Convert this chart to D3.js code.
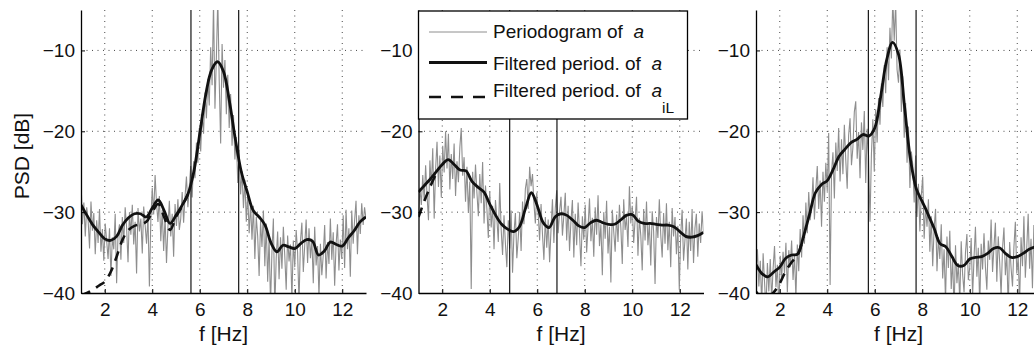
<!DOCTYPE html>
<html>
<head>
<meta charset="utf-8">
<script src="https://cdn.jsdelivr.net/npm/d3@7"></script>
<style>
  body { margin: 0; background: #fff; }
  svg { font-family: "Liberation Sans", Arial, Helvetica, sans-serif; }
</style>
</head>
<body>
<svg id="chart" width="1034" height="350"></svg>
<script>
// frequency grids (Hz)
const freqFine = d3.range(201).map(i => 1 + i * 0.06);
const freqSmooth = d3.range(49).map(i => 1 + i * 0.25);

const xTicks = [2, 4, 6, 8, 10, 12];
const yTicks = [-40, -30, -20, -10];
const gridY = [-30, -20, -10];

// raw periodogram of a (dB), one per panel
const periodogram1 = [
  -26.0, -31.5, -28.8, -33.0, -29.4, -31.0, -34.5, -28.7, -32.3, -30.1,
  -35.2, -31.0, -33.8, -29.6, -34.9, -32.1, -36.0, -31.4, -33.5, -35.8,
  -32.0, -37.9, -33.1, -34.6, -30.2, -38.8, -32.7, -31.5, -35.9, -30.6,
  -33.8, -29.4, -31.9, -36.2, -30.0, -32.8, -29.1, -34.0, -31.2, -37.6,
  -29.5, -32.4, -30.8, -35.1, -29.3, -31.6, -33.9, -30.4, -39.2, -31.0,
  -27.0, -30.3, -25.4, -28.9, -31.2, -28.0, -33.6, -29.7, -34.8, -30.5,
  -36.3, -31.9, -28.6, -33.0, -30.2, -35.5, -29.0, -31.7, -28.4, -32.2,
  -30.8, -27.5, -31.3, -28.1, -25.6, -29.4, -26.9, -24.3, -28.2, -23.7,
  -25.8, -21.4, -23.9, -19.6, -22.5, -17.8, -20.3, -15.2, -18.4, -13.5,
  -16.8, -9.6, -14.3, -4.0, -17.2, -10.9, -3.5, -13.8, -21.5, -9.2,
  -14.6, -11.2, -17.9, -13.0, -19.6, -15.4, -21.8, -18.0, -23.5, -20.7,
  -26.4, -22.3, -27.8, -24.9, -29.5, -26.0, -31.2, -27.7, -32.6, -29.0,
  -33.4, -29.2, -35.8, -30.6, -33.0, -37.9, -31.1, -34.3, -29.8, -36.7,
  -31.4, -38.6, -33.2, -41.5, -34.9, -30.8, -42.0, -35.6, -32.4, -38.3,
  -33.1, -37.0, -31.8, -35.4, -39.6, -32.9, -36.1, -34.0, -40.8, -33.5,
  -36.8, -32.2, -35.0, -41.2, -33.6, -31.3, -37.4, -34.1, -30.9, -36.3,
  -32.0, -35.7, -33.3, -38.8, -31.8, -36.6, -34.2, -40.5, -33.9, -37.8,
  -35.3, -31.6, -38.2, -33.7, -36.4, -30.8, -35.9, -32.5, -39.1, -34.0,
  -31.5, -37.2, -33.4, -35.8, -30.4, -36.9, -29.7, -34.6, -32.0, -38.0,
  -29.8, -33.9, -31.0, -28.6, -35.2, -30.4, -32.7, -28.9, -31.6, -29.4, -30.8
];
const periodogram2 = [
  -30.5, -27.0, -29.1, -25.4, -28.6, -24.2, -27.9, -31.0, -23.6, -26.8,
  -22.1, -30.8, -24.7, -21.3, -26.9, -23.0, -28.2, -21.8, -25.1, -20.0,
  -24.6, -20.3, -27.2, -22.8, -25.9, -21.5, -28.0, -23.7, -26.3, -22.0,
  -19.6, -25.5, -23.2, -28.7, -24.4, -30.1, -26.2, -39.5, -25.0, -28.3,
  -24.1, -27.6, -30.5, -25.3, -28.9, -23.8, -31.4, -26.7, -29.6, -33.2,
  -27.4, -31.9, -29.2, -34.6, -28.5, -30.8, -33.7, -26.4, -32.1, -35.3,
  -30.4, -33.9, -36.8, -31.0, -34.5, -29.8, -37.5, -32.6, -30.1, -35.7,
  -33.2, -30.0, -34.8, -28.7, -31.5, -27.1, -25.9, -29.6, -24.4, -26.8,
  -25.3, -28.9, -31.4, -27.6, -30.2, -33.5, -29.0, -32.7, -35.9, -30.6,
  -34.4, -30.9, -36.2, -32.1, -28.4, -33.8, -29.5, -27.3, -32.6, -29.9,
  -28.1, -32.9, -30.4, -27.6, -33.5, -29.2, -34.8, -31.1, -28.5, -35.6,
  -30.2, -34.1, -28.8, -32.6, -36.7, -30.5, -33.4, -29.1, -35.0, -31.8,
  -28.3, -33.6, -30.7, -35.5, -29.4, -32.8, -27.9, -34.2, -31.5, -37.8,
  -30.0, -33.3, -28.6, -35.1, -31.8, -38.7, -29.7, -32.4, -34.9, -30.3,
  -33.7, -29.1, -31.9, -36.4, -28.4, -32.2, -30.6, -34.3, -26.8, -31.4,
  -29.2, -33.8, -31.0, -28.1, -35.4, -30.7, -32.9, -37.2, -29.6, -33.5,
  -28.7, -34.1, -31.3, -36.6, -29.9, -32.4, -38.9, -30.6, -33.2, -28.4,
  -32.8, -35.6, -30.1, -33.9, -28.9, -34.7, -31.2, -36.8, -29.5, -33.0,
  -30.6, -35.2, -31.7, -39.6, -32.9, -29.7, -36.0, -33.4, -30.8, -37.1,
  -31.2, -34.8, -29.6, -36.3, -32.0, -30.2, -35.5, -31.4, -33.8, -29.9, -32.5
];
const periodogram3 = [
  -37.5, -34.6, -39.2, -36.0, -41.5, -35.1, -38.7, -42.0, -36.3, -39.8,
  -35.8, -40.9, -37.0, -34.2, -39.3, -36.5, -42.3, -35.4, -38.1, -34.9,
  -37.6, -33.8, -39.9, -34.7, -36.8, -33.5, -38.4, -35.2, -40.6, -34.0,
  -37.3, -32.1, -35.6, -30.4, -33.9, -28.8, -32.6, -27.5, -31.0, -29.4,
  -25.7, -30.9, -27.2, -24.3, -29.6, -26.1, -31.8, -25.0, -28.7, -23.9,
  -27.4, -20.2, -39.0, -25.1, -22.6, -28.3, -21.4, -24.9, -19.6, -26.2,
  -21.0, -25.3, -19.2, -23.6, -27.1, -20.5, -18.4, -24.2, -22.0, -17.6,
  -16.3, -23.4, -20.1, -25.8, -18.9, -22.3, -17.5, -26.4, -19.7, -23.1,
  -31.2, -22.8, -18.5, -25.0, -17.3, -21.4, -15.9, -19.2, -14.1, -17.0,
  -11.8, -15.3, -9.6, -13.7, -7.2, -11.0, -3.5, -8.8, -4.0, -12.4,
  -14.0, -9.9, -17.6, -13.2, -20.8, -16.5, -23.9, -19.4, -27.0, -22.5,
  -24.1, -28.8, -23.0, -30.6, -26.5, -32.4, -27.9, -25.6, -33.3, -29.2,
  -31.8, -28.4, -34.9, -30.5, -36.7, -32.0, -29.6, -37.3, -33.1, -35.8,
  -31.5, -38.2, -34.6, -41.0, -33.0, -36.9, -32.3, -39.5, -35.7, -42.4,
  -34.1, -38.8, -36.3, -41.2, -33.6, -37.7, -39.9, -35.0, -32.7, -38.4,
  -36.9, -33.2, -40.4, -35.6, -31.8, -38.0, -34.4, -41.7, -33.9, -37.1,
  -32.6, -36.8, -39.6, -33.5, -35.9, -30.9, -37.4, -34.2, -31.3, -38.6,
  -33.0, -36.2, -40.3, -34.5, -31.9, -37.8, -35.1, -42.0, -33.7, -36.9,
  -39.2, -34.3, -31.2, -37.6, -35.5, -41.3, -33.1, -36.7, -30.5, -38.1,
  -34.4, -30.2, -37.0, -33.3, -39.4, -31.6, -35.8, -32.8, -38.6, -33.9, -36.1
];

// filtered periodogram of a (dB), sampled every 0.25 Hz
const filtered1 = [
  -29.1, -30.4, -31.6, -32.5,
  -33.3, -33.5, -33.0, -31.6,
  -30.7, -30.2, -30.2, -30.6,
  -29.5, -28.5, -29.8, -31.4,
  -30.4, -29.2, -27.8, -25.0,
  -20.3, -15.5, -12.4, -11.4,
  -12.6, -16.3, -21.0, -25.0,
  -27.5, -29.8, -30.6, -31.6,
  -33.8, -34.9, -34.1, -34.3,
  -34.5, -33.9, -33.4, -33.6,
  -35.3, -34.8, -33.7, -34.0,
  -34.2, -33.2, -32.3, -31.2,
  -30.6
];
const filtered2 = [
  -27.5, -26.7, -25.9, -25.0,
  -24.1, -23.5, -24.1, -24.8,
  -24.9, -26.2, -26.9, -27.5,
  -29.0, -30.4, -31.5, -32.1,
  -32.4, -31.8, -29.6, -27.6,
  -29.2, -31.3, -31.9, -30.6,
  -30.2, -30.4, -31.0, -31.7,
  -31.9, -31.3, -31.0, -31.3,
  -31.5, -31.5, -31.0, -30.4,
  -30.3, -31.1, -31.4, -31.4,
  -31.5, -31.6, -31.6, -31.8,
  -32.4, -33.0, -33.1, -32.9,
  -32.5
];
const filtered3 = [
  -36.5, -37.6, -38.0, -37.4,
  -36.8, -35.7, -35.3, -35.2,
  -33.0, -30.3, -27.6, -26.6,
  -26.1, -24.7, -23.1, -22.2,
  -21.4, -21.0, -20.4, -20.6,
  -19.6, -15.7, -11.2, -9.0,
  -10.5, -16.8, -23.4, -27.1,
  -28.7, -30.3, -32.0, -33.9,
  -34.3, -35.5, -36.6, -36.6,
  -35.8, -35.6, -35.5, -35.1,
  -34.5, -34.4, -35.1, -35.6,
  -35.5, -35.1, -34.6, -34.3,
  -34.2
];

// filtered periodogram of a_iL, only where it leaves the solid curve
const filteredIL1 = [-40.3, -40.0, -39.6, -39.1, -38.6, -37.4, -35.5, -33.4, -32.2, -31.7,
  -31.5, -31.2, -30.0, -29.0, -30.6, -32.2, -30.6, -29.3, -27.8];
const filteredIL2 = [-30.6, -28.6, -26.8, -25.2];
const filteredIL3 = [-39.8, -40.6, -40.5, -39.9, -38.8, -37.3, -36.2, -35.3, -33.0];

// band limits drawn as vertical lines (Hz)
const bandEdges = [[5.63, 7.64], [4.84, 6.83], [5.73, 7.74]];

const legendLabels = ['Periodogram of', 'Filtered period. of', 'Filtered period. of'];

const panels = [
  { raw: periodogram1, filt: filtered1, il: filteredIL1, band: bandEdges[0] },
  { raw: periodogram2, filt: filtered2, il: filteredIL2, band: bandEdges[1] },
  { raw: periodogram3, filt: filtered3, il: filteredIL3, band: bandEdges[2] }
];

// layout
const panelLeft = [81, 418.5, 756];
const panelTop = 10;
const width = 285;
const height = 283;
const tickFont = 19;
const labelFont = 21;
const grayColor = '#8e8e8e';

const svg = d3.select('#chart');

const x = d3.scaleLinear().domain([1, 13]).range([0, width]);
const y = d3.scaleLinear().domain([-40, -5]).range([height, 0]);

const line = d3.line()
  .x(d => x(d[0]))
  .y(d => y(d[1]));

const smoothLine = d3.line()
  .x(d => x(d[0]))
  .y(d => y(d[1]))
  .curve(d3.curveCatmullRom.alpha(0.5));

panels.forEach((p, i) => {
  const g = svg.append('g')
    .attr('transform', `translate(${panelLeft[i]},${panelTop})`);

  // clip to the axes box
  svg.append('clipPath')
    .attr('id', 'clip' + i)
    .append('rect')
    .attr('width', width)
    .attr('height', height);

  // dotted grid
  g.selectAll('.gx')
    .data(xTicks)
    .enter().append('line')
    .attr('x1', d => x(d)).attr('x2', d => x(d))
    .attr('y1', 0).attr('y2', height)
    .attr('stroke', '#333')
    .attr('stroke-width', 0.9)
    .attr('stroke-dasharray', '1,4.5');

  g.selectAll('.gy')
    .data(gridY)
    .enter().append('line')
    .attr('x1', 0).attr('x2', width)
    .attr('y1', d => y(d)).attr('y2', d => y(d))
    .attr('stroke', '#333')
    .attr('stroke-width', 0.9)
    .attr('stroke-dasharray', '1,4.5');

  const plot = g.append('g').attr('clip-path', `url(#clip${i})`);

  // raw periodogram
  plot.append('path')
    .datum(p.raw.map((v, k) => [freqFine[k], v]))
    .attr('fill', 'none')
    .attr('stroke', grayColor)
    .attr('stroke-width', 1.1)
    .attr('d', line);

  // band limits
  plot.selectAll('.band')
    .data(p.band)
    .enter().append('line')
    .attr('x1', d => x(d)).attr('x2', d => x(d))
    .attr('y1', 0).attr('y2', height)
    .attr('stroke', '#000')
    .attr('stroke-width', 1.1);

  // filtered a_iL (dashed), under the solid curve
  plot.append('path')
    .datum(p.il.map((v, k) => [freqSmooth[k], v]))
    .attr('fill', 'none')
    .attr('stroke', '#111')
    .attr('stroke-width', 2.6)
    .attr('stroke-dasharray', '10,7')
    .attr('d', smoothLine);

  // filtered a
  plot.append('path')
    .datum(p.filt.map((v, k) => [freqSmooth[k], v]))
    .attr('fill', 'none')
    .attr('stroke', '#111')
    .attr('stroke-width', 2.8)
    .attr('d', smoothLine);

  // axes, ticks pointing inward like matlab
  const xAxis = g.append('g')
    .attr('transform', `translate(0,${height})`)
    .call(d3.axisBottom(x).tickValues(xTicks).tickSizeInner(-4).tickSizeOuter(0).tickPadding(10));

  const yAxis = g.append('g')
    .call(d3.axisLeft(y).tickValues(yTicks).tickSizeInner(-4).tickSizeOuter(0).tickPadding(6));

  [xAxis, yAxis].forEach(a => {
    a.select('.domain').attr('stroke', '#000').attr('stroke-width', 1.3);
    a.selectAll('.tick line').attr('stroke', '#000');
    a.selectAll('.tick text')
      .attr('fill', '#111')
      .style('font-size', tickFont + 'px')
      .style('font-family', '"Liberation Sans", Arial, sans-serif');
  });

  g.append('text')
    .attr('x', width / 2)
    .attr('y', 331)
    .attr('text-anchor', 'middle')
    .attr('fill', '#111')
    .style('font-size', labelFont + 'px')
    .text('f [Hz]');
});

// y label on the first panel only
svg.append('text')
  .attr('transform', 'translate(28.5,156) rotate(-90)')
  .attr('text-anchor', 'middle')
  .attr('fill', '#111')
  .style('font-size', labelFont + 'px')
  .text('PSD [dB]');

// legend, sitting in the top of the middle panel
const legend = svg.append('g').attr('transform', 'translate(418.5,11)');

legend.append('rect')
  .attr('width', 269)
  .attr('height', 108)
  .attr('fill', '#fff')
  .attr('stroke', '#000')
  .attr('stroke-width', 1.3);

const legendRows = [
  { sampleY: 21, textY: 26.7, stroke: grayColor, sw: 1, dash: null },
  { sampleY: 51.5, textY: 59, stroke: '#111', sw: 2.8, dash: null },
  { sampleY: 86, textY: 85.7, stroke: '#111', sw: 2.6, dash: '12,10' }
];

legendRows.forEach((r, i) => {
  legend.append('line')
    .attr('x1', 10.5).attr('x2', 68.5)
    .attr('y1', r.sampleY).attr('y2', r.sampleY)
    .attr('stroke', r.stroke)
    .attr('stroke-width', r.sw)
    .attr('stroke-dasharray', r.dash);

  const t = legend.append('text')
    .attr('x', 74.5)
    .attr('y', r.textY)
    .attr('fill', '#111')
    .style('font-size', tickFont + 'px')
    .style('white-space', 'pre')
    .text(legendLabels[i] + '  ');

  t.append('tspan')
    .style('font-style', 'italic')
    .text('a');

  if (i === 2) {
    t.append('tspan')
      .attr('dy', 16)
      .style('font-size', '15.5px')
      .text('iL');
  }
});
</script>
</body>
</html>
